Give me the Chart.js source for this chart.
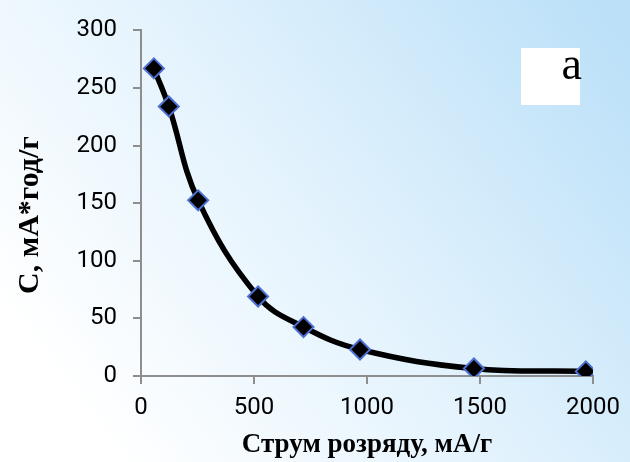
<!DOCTYPE html>
<html>
<head>
<meta charset="utf-8">
<script src="https://cdn.jsdelivr.net/npm/chart.js@4/dist/chart.umd.min.js"></script>
<style>
  body { margin: 0; }
  #wrap { width: 630px; height: 462px; }
</style>
</head>
<body>
<div id="wrap"><canvas id="myChart" width="630" height="462"></canvas></div>
<script>
const currents = [57, 123, 253, 518, 719, 969, 1473, 1968];
const capacity = [267, 234, 152.5, 69, 42.5, 23, 6.5, 4];
const xTicks = [0, 500, 1000, 1500, 2000];
const yTicks = [0, 50, 100, 150, 200, 250, 300];

const xTitle = "Струм розряду, мА/г";
const yTitle = "С, мА*год/г";
const panelLabel = "a";

const axisGray = "#8e8e8e";

// background, y title and the "a" box
const decor = {
  id: "decor",
  beforeDraw(chart) {
    const c = chart.ctx;
    const g = c.createLinearGradient(100, 440, 630, 40);
    g.addColorStop(0, "#ffffff");
    g.addColorStop(0.45, "#e4f3fd");
    g.addColorStop(1, "#bbe0f8");
    c.save();
    c.fillStyle = g;
    c.fillRect(0, 0, chart.width, chart.height);
    c.restore();
  },
  afterDraw(chart) {
    const c = chart.ctx;
    c.save();
    c.fillStyle = "#ffffff";
    c.fillRect(521, 48, 59, 57);
    c.fillStyle = "#000";
    c.font = "46px 'Liberation Serif'";
    c.textAlign = "right";
    c.textBaseline = "alphabetic";
    c.fillText(panelLabel, 582, 79);

    c.translate(38, 215);
    c.rotate(-Math.PI / 2);
    c.font = "bold 30px 'Liberation Serif'";
    c.textAlign = "center";
    c.fillText(yTitle, 0, 0);
    c.restore();
  },
};

const ctx = document.getElementById("myChart");

new Chart(ctx, {
  type: "line",
  data: {
    datasets: [
      {
        data: currents.map((x, i) => ({ x: x, y: capacity[i] })),
        borderColor: "#000",
        borderWidth: 5.5,
        tension: 0.4,
        pointStyle: "rectRot",
        pointRadius: 10,
        pointBackgroundColor: "#000",
        pointBorderColor: "#4d6fd2",
        pointBorderWidth: 2,
      },
    ],
  },
  options: {
    responsive: false,
    animation: false,
    events: [],
    layout: { padding: { top: 23, right: 30, bottom: 0, left: 0 } },
    plugins: { legend: { display: false }, tooltip: { enabled: false } },
    scales: {
      x: {
        type: "linear",
        min: 0,
        max: 2000,
        afterBuildTicks(s) { s.ticks = xTicks.map((v) => ({ value: v })); },
        afterFit(s) { s.height = 86; },
        ticks: {
          color: "#000",
          padding: 10,
          font: { family: "Roboto", size: 24 },
          callback: (v) => String(v),
        },
        grid: { drawOnChartArea: false, tickLength: 8, color: axisGray, lineWidth: 2 },
        border: { color: axisGray, width: 2 },
        title: {
          display: true,
          text: xTitle,
          color: "#000",
          font: { family: "Liberation Serif", size: 27, weight: "bold" },
          padding: { top: 0, bottom: 1 },
        },
      },
      y: {
        min: 0,
        max: 300,
        afterBuildTicks(s) { s.ticks = yTicks.map((v) => ({ value: v })); },
        afterFit(s) { s.width = 141; },
        ticks: {
          color: "#000",
          padding: 16,
          font: { family: "Roboto", size: 24 },
          callback: (v) => String(v),
        },
        grid: { drawOnChartArea: false, tickLength: 8, color: axisGray, lineWidth: 2 },
        border: { color: axisGray, width: 2 },
      },
    },
  },
  plugins: [decor],
});
</script>
</body>
</html>
